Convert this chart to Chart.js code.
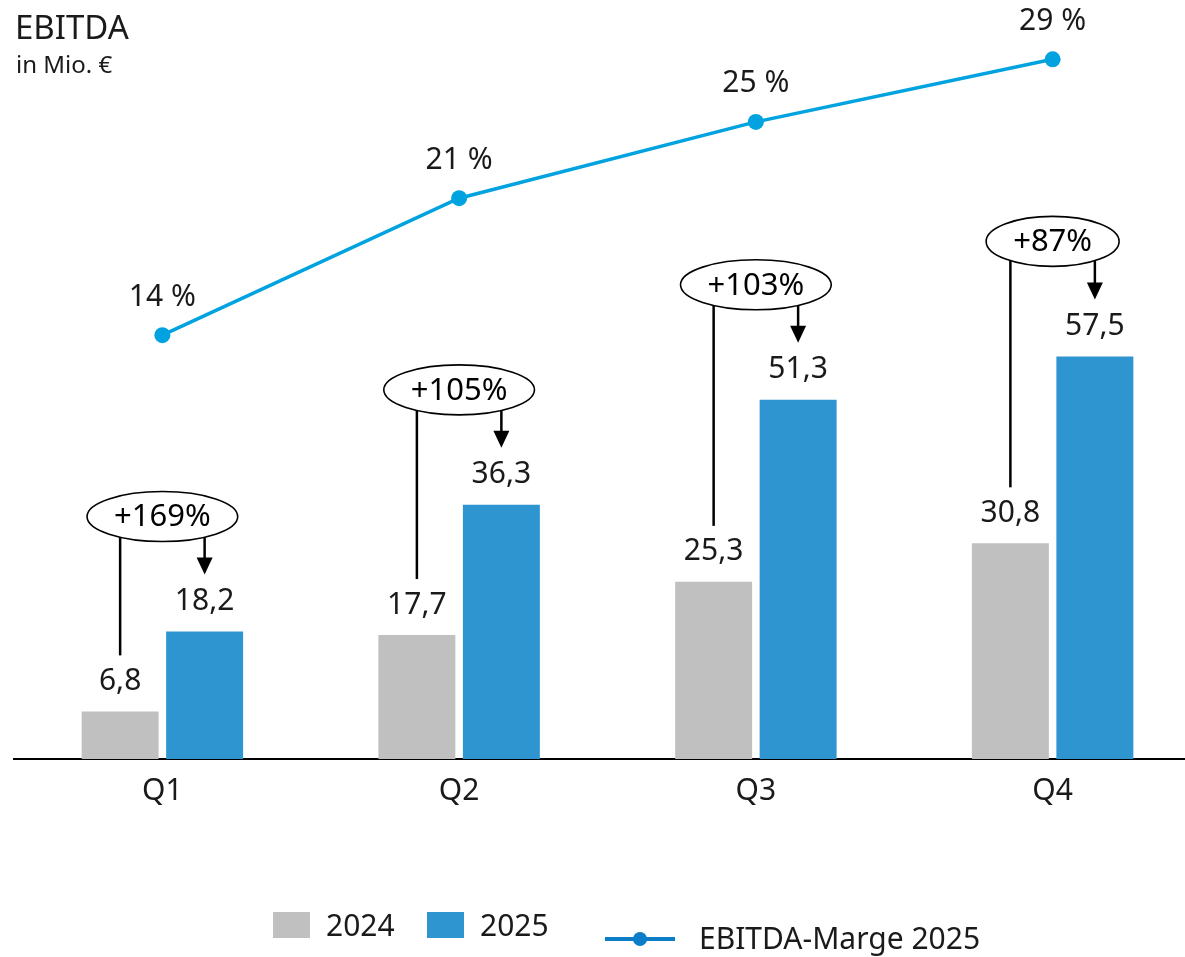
<!DOCTYPE html>
<html>
<head>
<meta charset="utf-8">
<script src="https://cdn.jsdelivr.net/npm/chart.js@4/dist/chart.umd.min.js"></script>
<style>
  html, body { margin: 0; padding: 0; background: #fff; overflow: hidden; width: 1185px; height: 957px; }
  #wrap { position: absolute; left: 0; top: 0; width: 1201px; height: 957px; }
  .txt { position: absolute; font-family: "Noto Sans", sans-serif; color: #1a1a1a; white-space: nowrap; line-height: 1; }
  .sq { position: absolute; width: 37px; height: 26px; }
</style>
</head>
<body>
<div id="wrap"><canvas id="c" width="1201" height="957"></canvas></div>
<div class="txt" style="left:15px; top:10px; font-size:33px;">EBITDA</div>
<div class="txt" style="left:16px; top:52px; font-size:24px;">in Mio. €</div>

<div class="sq" style="left:273px; top:912px; background:#c0c0c0;"></div>
<div class="txt" style="left:326px; top:910px; font-size:30px;">2024</div>
<div class="sq" style="left:427px; top:912px; background:#2e95d0;"></div>
<div class="txt" style="left:480px; top:910px; font-size:30px;">2025</div>
<div style="position:absolute; left:605px; top:937px; width:70px; height:4px; background:#0a7cc8;"></div>
<div style="position:absolute; left:633px; top:932px; width:14px; height:14px; border-radius:50%; background:#0a7cc8;"></div>
<div class="txt" style="left:699px; top:923px; font-size:30px;">EBITDA-Marge 2025</div>

<script>
const categories = ["Q1", "Q2", "Q3", "Q4"];
const ebitda2024 = [6.8, 17.7, 25.3, 30.8];
const ebitda2025 = [18.2, 36.3, 51.3, 57.5];
const labels2024 = ["6,8", "17,7", "25,3", "30,8"];
const labels2025 = ["18,2", "36,3", "51,3", "57,5"];
const marge2025 = [14.4, 21.4, 25.3, 28.5];
const margeLabels = ["14 %", "21 %", "25 %", "29 %"];
const growthLabels = ["+169%", "+105%", "+103%", "+87%"];

const FONT = '"Noto Sans", sans-serif';
const TXT = '#1a1a1a';

const annotate = {
  id: 'annotate',
  afterDatasetsDraw(chart) {
    const ctx = chart.ctx;
    const m0 = chart.getDatasetMeta(0).data;
    const m1 = chart.getDatasetMeta(1).data;
    const m2 = chart.getDatasetMeta(2).data;
    ctx.save();
    ctx.textAlign = 'center';
    ctx.textBaseline = 'middle';
    for (let i = 0; i < categories.length; i++) {
      const g = m0[i], b = m1[i], p = m2[i];
      ctx.fillStyle = TXT;
      ctx.font = '30px ' + FONT;
      ctx.fillText(labels2024[i], g.x, g.y - 30);
      ctx.fillText(labels2025[i], b.x, b.y - 30);
      ctx.fillText(margeLabels[i], p.x, p.y - 38);

      // ellipse annotation
      ctx.font = '31px ' + FONT;
      const tw = ctx.measureText(growthLabels[i]).width;
      const cx = (g.x + b.x) / 2;
      const cy = b.y - 115;
      const rx = tw / 2 + 27, ry = 25;
      ctx.beginPath();
      ctx.ellipse(cx, cy, rx, ry, 0, 0, Math.PI * 2);
      ctx.fillStyle = '#fff';
      ctx.fill();
      ctx.lineWidth = 1.6;
      ctx.strokeStyle = '#000';
      ctx.stroke();
      ctx.fillStyle = '#000';
      ctx.fillText(growthLabels[i], cx, cy + 1);

      const edge = (x) => { const d = (x - cx) / rx; return cy + ry * Math.sqrt(Math.max(0, 1 - d * d)); };
      // vertical line down to the 2024 label
      ctx.lineWidth = 2.5;
      ctx.beginPath();
      ctx.moveTo(g.x, edge(g.x));
      ctx.lineTo(g.x, g.y - 56);
      ctx.stroke();
      // arrow to the 2025 label
      const tip = b.y - 57;
      ctx.beginPath();
      ctx.moveTo(b.x, edge(b.x));
      ctx.lineTo(b.x, tip - 14);
      ctx.stroke();
      ctx.beginPath();
      ctx.moveTo(b.x - 8, tip - 17);
      ctx.lineTo(b.x + 8, tip - 17);
      ctx.lineTo(b.x, tip);
      ctx.closePath();
      ctx.fill();
    }
    ctx.restore();
  }
};

new Chart(document.getElementById('c'), {
  data: {
    labels: categories,
    datasets: [
      { type: 'bar', label: '2024', data: ebitda2024, backgroundColor: '#c0c0c0', yAxisID: 'y', xAxisID: 'x',
        categoryPercentage: 0.5694, barPercentage: 0.911, order: 2 },
      { type: 'bar', label: '2025', data: ebitda2025, backgroundColor: '#2e95d0', yAxisID: 'y', xAxisID: 'x',
        categoryPercentage: 0.5694, barPercentage: 0.911, order: 2 },
      { type: 'line', label: 'EBITDA-Marge 2025', data: marge2025,
        borderColor: '#00a3e0', backgroundColor: '#00a3e0', borderWidth: 3.5,
        pointRadius: 8, pointHoverRadius: 8, pointBackgroundColor: '#00a3e0', pointBorderWidth: 0,
        yAxisID: 'y1', xAxisID: 'x', order: 1, tension: 0 }
    ]
  },
  options: {
    indexAxis: 'x',
    responsive: false,
    animation: false,
    events: [],
    layout: { autoPadding: false, padding: { left: 14, right: 0, top: 0, bottom: 0 } },
    plugins: { legend: { display: false }, tooltip: { enabled: false }, title: { display: false } },
    scales: {
      x: {
        type: 'category',
        offset: true,
        grid: { display: false, drawTicks: false },
        border: { display: true, color: '#000', width: 2 },
        ticks: { color: TXT, font: { family: FONT, size: 30 }, padding: 14 },
        afterFit(axis) { axis.height = 198; }
      },
      y: { display: false, min: 0, max: 108.4 },
      y1: { display: false, min: -7.26, max: 31.53 }
    }
  },
  plugins: [annotate]
});
</script>
</body>
</html>
